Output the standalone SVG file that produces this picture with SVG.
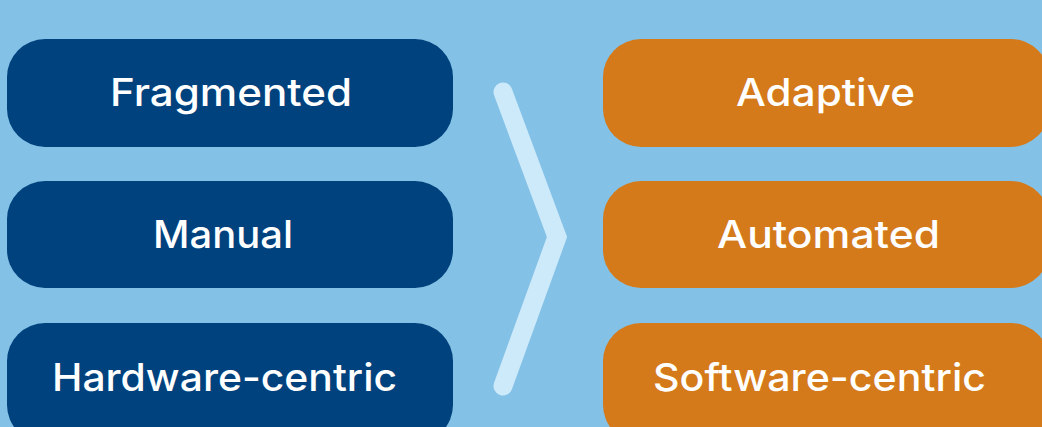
<svg xmlns="http://www.w3.org/2000/svg" width="1042" height="427" viewBox="0 0 1042 427">
<style>
.bg{fill:#84C1E6}
.old{fill:#00427E}
.new{fill:#D47A1A}
.lbl{font-family:Inter,"Open Sans","Liberation Sans",sans-serif;font-size:38px;font-weight:500;fill:#FFFFFF;text-anchor:middle}
.chev{fill:none;stroke:#CDEAFA;stroke-width:19;stroke-linecap:round;stroke-linejoin:miter}
</style>
<rect class="bg" x="0" y="0" width="1042" height="427"/>
<g id="fragmented"><rect class="old" x="7" y="39" width="446" height="108" rx="38"/><text class="lbl" x="231" y="106" textLength="242" lengthAdjust="spacingAndGlyphs">Fragmented</text></g>
<g id="manual"><rect class="old" x="7" y="181" width="446" height="107" rx="38"/><text class="lbl" x="223" y="248" textLength="140" lengthAdjust="spacingAndGlyphs">Manual</text></g>
<g id="hardware"><rect class="old" x="7" y="323" width="446" height="120" rx="38"/><text class="lbl" x="224.5" y="391" textLength="345" lengthAdjust="spacingAndGlyphs">Hardware-centric</text></g>
<g id="adaptive"><rect class="new" x="603" y="39" width="446" height="108" rx="38"/><text class="lbl" x="825.5" y="106" textLength="179" lengthAdjust="spacingAndGlyphs">Adaptive</text></g>
<g id="automated"><rect class="new" x="603" y="181" width="446" height="107" rx="38"/><text class="lbl" x="828.5" y="248" textLength="223" lengthAdjust="spacingAndGlyphs">Automated</text></g>
<g id="software"><rect class="new" x="603" y="323" width="446" height="120" rx="38"/><text class="lbl" x="819.5" y="391" textLength="333" lengthAdjust="spacingAndGlyphs">Software-centric</text></g>
<g id="connectors"><polyline class="chev" points="503,92 557,237 503,386"/></g>
</svg>
